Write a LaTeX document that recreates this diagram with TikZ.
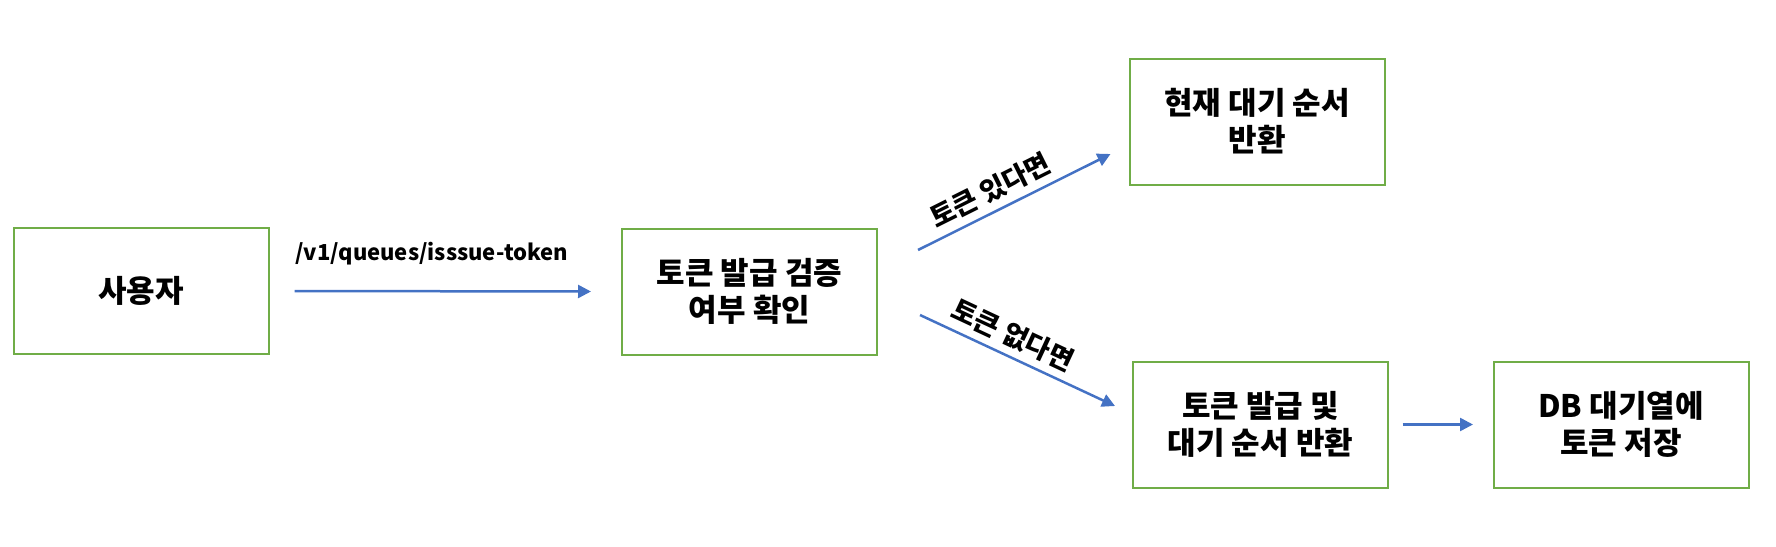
\documentclass[tikz,border=0pt]{standalone}
\usepackage{fontspec}
\setmainfont{Noto Sans CJK KR}
\usetikzlibrary{arrows.meta,calc}
\definecolor{boxgreen}{HTML}{70AD47}
\definecolor{arrowblue}{HTML}{4472C4}
\begin{document}
\begin{tikzpicture}[x=1pt,y=-1pt,
  box/.style={draw=boxgreen,line width=2pt,minimum width=255pt,minimum height=126pt,
    outer sep=0pt,inner sep=0pt,align=center,font=\fontsize{31}{37}\selectfont\bfseries},
  conn/.style={draw=arrowblue,line width=2.5pt,-{Triangle[length=13pt,width=13pt]}},
  lbl/.style={font=\fontsize{27}{30}\selectfont\bfseries,inner sep=0pt}]
\useasboundingbox (0,0) rectangle (1776,546);
\node[box] (user) at (141,291) {사용자};
\node[box] (check) at (749.5,291.5) {토큰 발급 검증\\여부 확인};
\node[box] (cur) at (1257,121.5) {현재 대기 순서\\반환};
\node[box] (issue) at (1260.5,424.5) {토큰 발급 및\\대기 순서 반환};
\node[box] (db) at (1621,424.5) {DB 대기열에\\토큰 저장};
\draw[conn] ($(user.east)+(26,0)$) -- ($(check.west)+(-31,0)$);
\node[font=\fontsize{22}{26}\selectfont\bfseries,inner sep=0pt,anchor=west] (lab1) at (295,253.7) {/v1/queues/isssue-token};
\draw[conn] ($(check.east)+(41,-41.5)$) -- ($(cur.west)+(-19,32.5)$)
  node[lbl,sloped,pos=0.423,above=7.5pt] (lab2) {토큰 있다면};
\draw[conn] ($(check.east)+(43,23.5)$) -- ($(issue.west)+(-18,-18.5)$)
  node[lbl,sloped,pos=0.43,above=7pt] (lab3) {토큰 없다면};
\draw[conn] ($(issue.east)+(14.5,0)$) -- ($(db.west)+(-20.5,0)$);
\end{tikzpicture}
\end{document}
